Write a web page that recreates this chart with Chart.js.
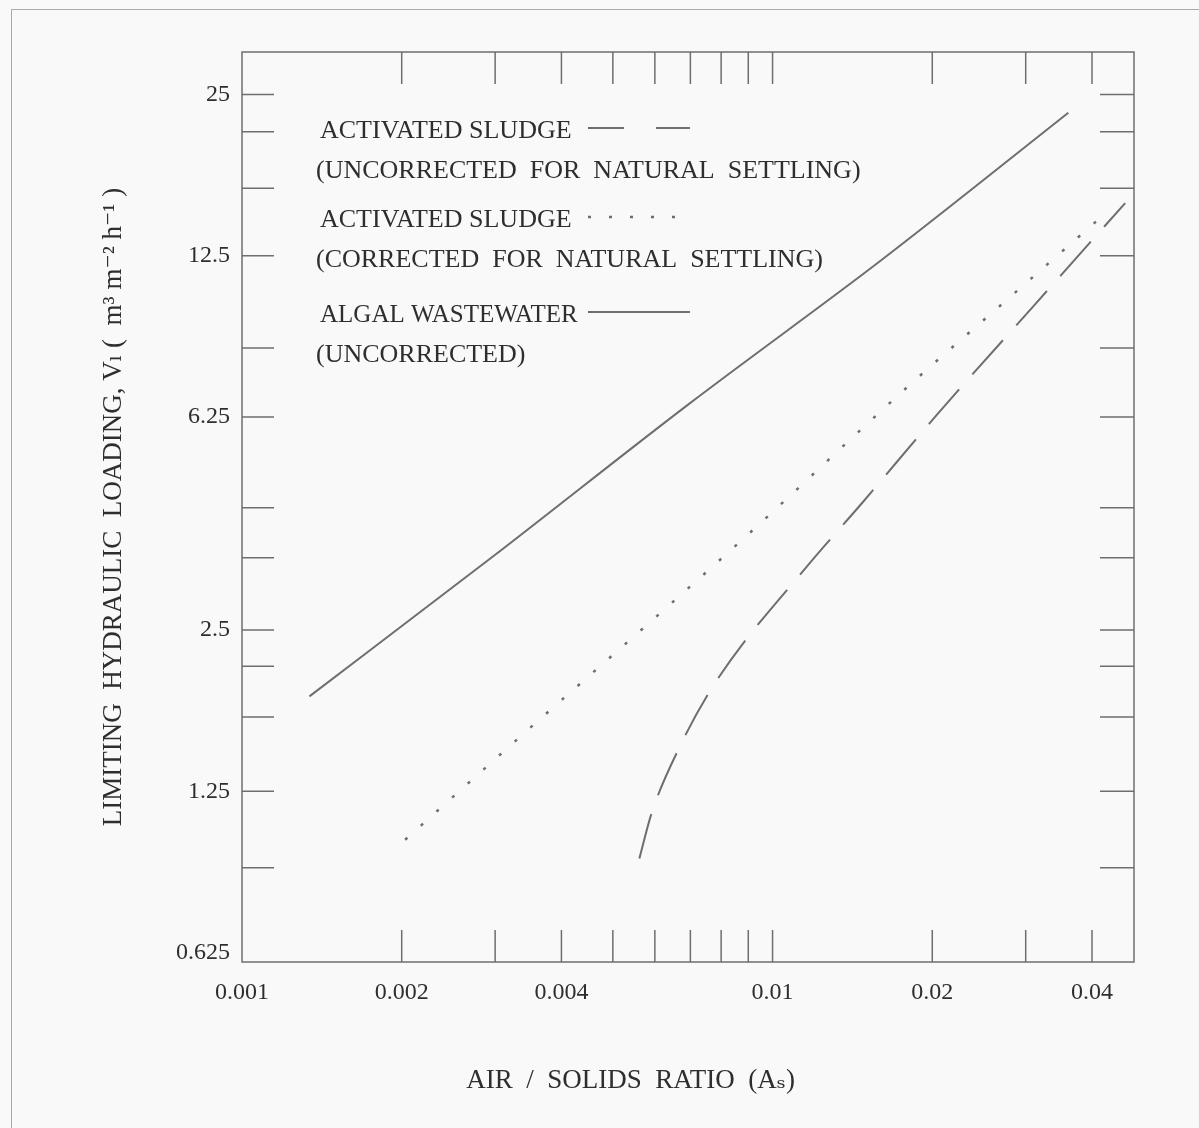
<!DOCTYPE html>
<html>
<head>
<meta charset="utf-8">
<script src="https://cdn.jsdelivr.net/npm/chart.js@4"></script>
<style>
  html, body { margin: 0; padding: 0; background: #f9f9f9; }
  #wrap { position: relative; width: 1199px; height: 1128px; }
  #frame { position: absolute; left: 11px; top: 9px; right: -5px; bottom: -5px; border-left: 1.5px solid #aaa; border-top: 1.5px solid #aaa; }
</style>
</head>
<body>
<div id="wrap">
  <div id="frame"></div>
  <canvas id="chart" width="1199" height="1128"></canvas>
</div>
<script>
const algalX = [0.00134, 0.00295, 0.00696, 0.0160, 0.0361];
const algalY = [1.88, 3.41, 6.61, 12.24, 23.1];

const uncorrX = [0.00561, 0.00591, 0.00667, 0.00783, 0.01156, 0.01479, 0.02047, 0.0313, 0.0462];
const uncorrY = [0.936, 1.134, 1.508, 2.006, 3.27, 4.33, 6.33, 10.16, 15.67];

const corrX = [0.00203, 0.00356, 0.00586, 0.00899, 0.0181, 0.0279, 0.0429];
const corrY = [1.015, 1.67, 2.58, 3.77, 7.16, 10.42, 15.15];

// tick labels and tick marks
const xLabels = [0.001, 0.002, 0.004, 0.01, 0.02, 0.04];
const xMarks = [0.002, 0.003, 0.004, 0.005, 0.006, 0.007, 0.008, 0.009, 0.01, 0.02, 0.03, 0.04];
const yLabels = [0.625, 1.25, 2.5, 6.25, 12.5, 25];
const yMarks = [0.9, 1.25, 1.72, 2.14, 2.5, 3.41, 4.23, 6.25, 8.4, 12.5, 16.7, 21.3, 25];

const legendText = [
  ['ACTIVATED SLUDGE', '(UNCORRECTED  FOR  NATURAL  SETTLING)'],
  ['ACTIVATED SLUDGE', '(CORRECTED  FOR  NATURAL  SETTLING)'],
  ['ALGAL WASTEWATER', '(UNCORRECTED)']
];

const ink = '#6e6e6e';
const textInk = '#2e2e2e';
const serif = '"Liberation Serif", "DejaVu Serif", serif';

const toPoints = (xs, ys) => xs.map((x, i) => ({x: x, y: ys[i]}));

const paperAxes = {
  id: 'paperAxes',
  afterDraw(chart) {
    const {ctx, chartArea: a, scales: {x, y}} = chart;
    ctx.save();
    ctx.strokeStyle = ink;
    ctx.lineWidth = 1.5;
    ctx.strokeRect(a.left, a.top, a.right - a.left, a.bottom - a.top);
    ctx.beginPath();
    xMarks.forEach(v => {
      const px = x.getPixelForValue(v);
      ctx.moveTo(px, a.bottom); ctx.lineTo(px, a.bottom - 32);
      ctx.moveTo(px, a.top); ctx.lineTo(px, a.top + 32);
    });
    yMarks.forEach(v => {
      const py = y.getPixelForValue(v);
      ctx.moveTo(a.left, py); ctx.lineTo(a.left + 32, py);
      ctx.moveTo(a.right, py); ctx.lineTo(a.right - 34, py);
    });
    ctx.stroke();

    // legend: two lines of text per series, line sample to the right
    ctx.fillStyle = textInk;
    ctx.textBaseline = 'middle';
    const rows = [[79, 119], [168, 208], [263, 303]];
    chart.data.datasets.forEach((ds, i) => {
      const [r1, r2] = rows[i];
      ctx.font = (i === 2 ? '25px ' : '26px ') + serif;
      ctx.fillText(legendText[i][0], a.left + 78, a.top + r1);
      ctx.font = '26px ' + serif;
      ctx.fillText(legendText[i][1], a.left + 74, a.top + r2);
      ctx.beginPath();
      ctx.lineWidth = ds.borderWidth;
      ctx.setLineDash(i === 0 ? [36, 32] : (ds.borderDash || []));
      ctx.moveTo(a.left + 346, a.top + r1 - 3);
      ctx.lineTo(a.left + 448, a.top + r1 - 3);
      ctx.stroke();
      ctx.setLineDash([]);
    });
    ctx.restore();
  }
};

new Chart(document.getElementById('chart'), {
  type: 'line',
  data: {
    datasets: [
      {
        label: 'ACTIVATED SLUDGE (UNCORRECTED FOR NATURAL SETTLING)',
        data: toPoints(uncorrX, uncorrY),
        borderColor: ink, borderWidth: 2, borderDash: [46, 20],
        pointRadius: 0, fill: false, cubicInterpolationMode: 'monotone'
      },
      {
        label: 'ACTIVATED SLUDGE (CORRECTED FOR NATURAL SETTLING)',
        data: toPoints(corrX, corrY),
        borderColor: ink, borderWidth: 2.5, borderDash: [3, 18],
        pointRadius: 0, fill: false, cubicInterpolationMode: 'monotone'
      },
      {
        label: 'ALGAL WASTEWATER (UNCORRECTED)',
        data: toPoints(algalX, algalY),
        borderColor: ink, borderWidth: 2,
        pointRadius: 0, fill: false, cubicInterpolationMode: 'monotone'
      }
    ]
  },
  options: {
    responsive: false,
    animation: false,
    layout: { padding: { top: 52, right: 65, left: 0, bottom: 0 } },
    plugins: { legend: { display: false }, tooltip: { enabled: false } },
    scales: {
      x: {
        type: 'logarithmic',
        min: 0.001, max: 0.048,
        grid: { display: false, drawTicks: false },
        border: { display: false },
        afterBuildTicks: s => { s.ticks = xLabels.map(v => ({value: v})); },
        afterFit: s => { s.height = 166; },
        ticks: {
          autoSkip: false, maxRotation: 0, padding: 16,
          color: textInk, font: { family: serif, size: 24 },
          callback: v => String(v)
        },
        title: {
          display: true, text: 'AIR  /  SOLIDS  RATIO  (Aₛ)                 ',
          color: textInk, font: { family: serif, size: 27 },
          padding: { bottom: 31 }
        }
      },
      y: {
        type: 'logarithmic',
        min: 0.625, max: 30,
        grid: { display: false, drawTicks: false },
        border: { display: false },
        afterBuildTicks: s => { s.ticks = yLabels.map(v => ({value: v})); },
        afterFit: s => { s.width = 242; },
        ticks: {
          autoSkip: false, padding: 12,
          color: textInk, font: { family: serif, size: 24 },
          callback: v => String(v)
        },
        title: {
          display: true, text: 'LIMITING  HYDRAULIC  LOADING, Vₗ (  m³ m⁻² h⁻¹ )',
          color: textInk, font: { family: serif, size: 27 },
          padding: { top: 98 }
        }
      }
    }
  },
  plugins: [paperAxes]
});
</script>
</body>
</html>
